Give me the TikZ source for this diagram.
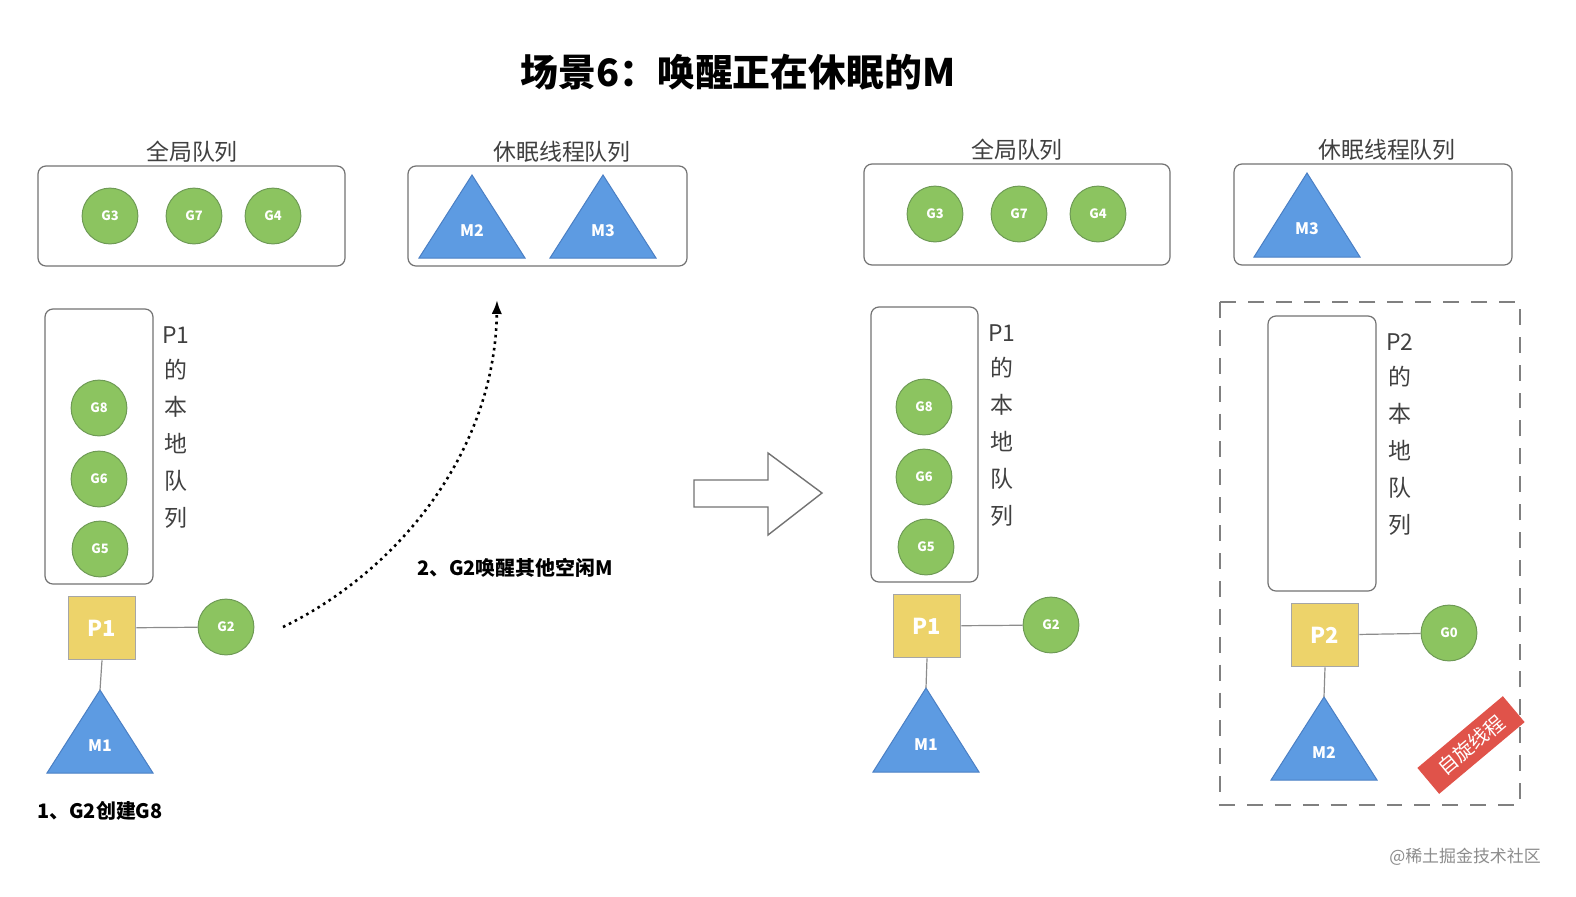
\documentclass[tikz,border=0pt]{standalone}
\usepackage{fontspec}
\setmainfont{Noto Sans CJK SC}
\usetikzlibrary{arrows.meta}
\definecolor{gf}{HTML}{8CC460}
\definecolor{gb}{HTML}{6E9A55}
\definecolor{yf}{HTML}{EDD36A}
\definecolor{tf}{HTML}{5D9BE2}
\definecolor{tb}{HTML}{4A7FC4}
\definecolor{rb}{HTML}{E0534A}
\begin{document}
\begin{tikzpicture}[x=0.5bp,y=-0.5bp,
 box/.style={draw=black!55,rounded corners=4pt,line width=0.6pt},
 g/.style={circle,fill=gf,draw=gb,line width=0.5pt,minimum size=28pt,inner sep=0,text=white,font=\fontsize{6.5}{7}\selectfont\bfseries},
 p/.style={fill=yf,draw=black!35,minimum width=34pt,minimum height=32pt,inner sep=0,text=white,font=\fontsize{11}{12}\selectfont\bfseries},
 lab/.style={font=\fontsize{11.5}{13}\selectfont,text=black!75},
 tl/.style={text=white,font=\fontsize{8}{9}\selectfont\bfseries},
 tri/.style={fill=tf,draw=tb,line width=0.5pt},
 ln/.style={draw=black!45,line width=0.6pt}]
\useasboundingbox (0,0) rectangle (1576,896);
\fill[white] (0,0) rectangle (1576,896);
\node[font=\fontsize{19}{22}\selectfont\bfseries] (title) at (738,72) {场景6：唤醒正在休眠的M};
% ---------- left
\draw[box] (38,166) rectangle (345,266);
\node[lab] (gl1) at (192,152) {全局队列};
\node[g] (g3a) at (110,216) {G3};
\node[g] (g7a) at (194,216) {G7};
\node[g] (g4a) at (273,216) {G4};
\draw[box] (408,166) rectangle (687,266);
\node[lab] (sl1) at (562,152) {休眠线程队列};
\draw[tri] (472,175) -- (525,258) -- (419,258) -- cycle;
\node[tl] (m2a) at (472,231) {M2};
\draw[tri] (603,175) -- (656,258) -- (550,258) -- cycle;
\node[tl] (m3a) at (603,231) {M3};
\draw[box] (45,309) rectangle (153,584);
\foreach \t/\y [count=\i] in {P1/335,的/370,本/407,地/444,队/481,列/518}
  \node[lab] (la\i) at (176,\y) {\t};
\node[g] (g8a) at (99,408) {G8};
\node[g] (g6a) at (99,479) {G6};
\node[g] (g5a) at (100,549) {G5};
\node[p] (p1a) at (102,628) {P1};
\node[g] (g2a) at (226,627) {G2};
\draw[ln] (p1a) -- (g2a);
\draw[tri] (100,690) -- (153,773) -- (47,773) -- cycle;
\coordinate (m1atop) at (100,690);
\node[tl] (m1a) at (100,746) {M1};
\draw[ln] (p1a.south) -- (m1atop);
\node[font=\fontsize{10}{12}\selectfont\bfseries] (s1) at (100,811) {1、G2创建G8};
\coordinate (ds) at (283,627);
\coordinate (de) at (497,300);
\draw[dotted,line width=1.3pt,-{Latex[length=7pt]}] (ds) .. controls (400,570) and (495,450) .. (de);
\node[font=\fontsize{10}{12}\selectfont\bfseries] (s2) at (515,568) {2、G2唤醒其他空闲M};
\draw[draw=black!55,line width=0.7pt,fill=white] (694,480) -- (768,480) -- (768,453) -- (822,493) -- (768,535) -- (768,507) -- (694,507) -- cycle;
% ---------- right
\draw[box] (864,164) rectangle (1170,265);
\node[lab] (gl2) at (1017,150) {全局队列};
\node[g] (g3b) at (935,214) {G3};
\node[g] (g7b) at (1019,214) {G7};
\node[g] (g4b) at (1098,214) {G4};
\draw[box] (1234,164) rectangle (1512,265);
\node[lab] (sl2) at (1387,150) {休眠线程队列};
\draw[tri] (1307,173) -- (1360,257) -- (1254,257) -- cycle;
\node[tl] (m3b) at (1307,229) {M3};
\draw[box] (871,307) rectangle (978,582);
\foreach \t/\y [count=\i] in {P1/333,的/368,本/405,地/442,队/479,列/516}
  \node[lab] (lb\i) at (1002,\y) {\t};
\node[g] (g8b) at (924,407) {G8};
\node[g] (g6b) at (924,477) {G6};
\node[g] (g5b) at (926,547) {G5};
\node[p] (p1b) at (927,626) {P1};
\node[g] (g2b) at (1051,625) {G2};
\draw[ln] (p1b) -- (g2b);
\draw[tri] (926,688) -- (979,772) -- (873,772) -- cycle;
\coordinate (m1btop) at (926,688);
\node[tl] (m1b) at (926,745) {M1};
\draw[ln] (p1b.south) -- (m1btop);
\draw[dashed,draw=black!50,line width=0.7pt,dash pattern=on 8pt off 6pt] (1220,302) rectangle (1520,805);
\draw[box] (1268,316) rectangle (1376,591);
\foreach \t/\y [count=\i] in {P2/342,的/377,本/414,地/451,队/488,列/525}
  \node[lab] (lc\i) at (1400,\y) {\t};
\node[p] (p2) at (1325,635) {P2};
\node[g] (g0) at (1449,633) {G0};
\draw[ln] (p2) -- (g0);
\draw[tri] (1324,697) -- (1377,780) -- (1271,780) -- cycle;
\coordinate (m2btop) at (1324,697);
\node[tl] (m2b) at (1324,753) {M2};
\draw[ln] (p2.south) -- (m2btop);
\node[fill=rb,text=white,rotate=40,minimum width=56pt,minimum height=17pt,inner sep=1pt,font=\fontsize{10}{11}\selectfont] (spin) at (1471,745) {自旋线程};
\node[text=black!45,font=\fontsize{8.5}{10}\selectfont] (wm) at (1465,857) {@稀土掘金技术社区};
\end{tikzpicture}
\end{document}
